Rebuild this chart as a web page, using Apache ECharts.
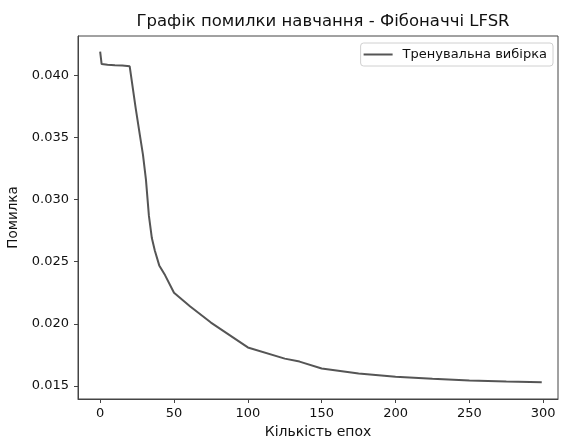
<!DOCTYPE html>
<html>
<head>
<meta charset="utf-8">
<script src="https://cdn.jsdelivr.net/npm/echarts@6/dist/echarts.min.js"></script>
<style>
html,body{margin:0;padding:0;background:#fff;}
#chart{width:564px;height:440px;}
</style>
</head>
<body>
<div id="chart"></div>
<script>
// Data
var epochs = [0, 1, 5, 10, 15, 20, 24, 27, 29, 31, 33, 35, 37, 40, 44, 50, 61, 75, 100, 125, 135, 150, 175, 200, 225, 250, 275, 299];
var trainLoss = [0.0419, 0.0409, 0.04085, 0.0408, 0.04078, 0.04072, 0.0374, 0.0351, 0.0336, 0.0316, 0.0287, 0.0269, 0.0259, 0.0247, 0.0239, 0.0225, 0.0214, 0.0201, 0.0181, 0.0172, 0.01696, 0.0164, 0.0160, 0.01575, 0.01557, 0.01543, 0.01535, 0.0153];
var xTicks = [0, 50, 100, 150, 200, 250, 300];
var yTicks = [0.015, 0.020, 0.025, 0.030, 0.035, 0.040];

var titleText = 'Графік помилки навчання - Фібоначчі LFSR';
var xName = 'Кількість епох';
var yName = 'Помилка';
var seriesName = 'Тренувальна вибірка';

var points = epochs.map(function (e, i) { return [e, trainLoss[i]]; });
var font = 'DejaVu Sans';

var chart = echarts.init(document.getElementById('chart'), null, {renderer: 'canvas'});
chart.setOption({
  animation: false,
  backgroundColor: '#ffffff',
  textStyle: {fontFamily: font},
  title: {
    text: titleText,
    left: 318, top: 8, textAlign: 'center',
    textStyle: {fontFamily: font, fontSize: 16.5, fontWeight: 'normal', color: '#111'}
  },
  legend: {
    data: [seriesName],
    right: 11, top: 43,
    orient: 'vertical',
    itemWidth: 29, itemHeight: 2, itemGap: 0,
    padding: [5, 6, 5, 3],
    borderColor: '#d0d0d0', borderWidth: 1, borderRadius: 3,
    backgroundColor: '#fff',
    textStyle: {fontFamily: font, fontSize: 13, color: '#111', padding: [0, 0, 0, 5]},
    icon: 'rect'
  },
  grid: {
    left: 78, top: 36, right: 6, bottom: 41,
    containLabel: false,
    outerBoundsMode: 'none',
    show: true, borderColor: '#444', borderWidth: 1, backgroundColor: '#fff'
  },
  xAxis: {
    type: 'value',
    min: -15, max: 310,
    name: xName, nameLocation: 'middle', nameGap: 25,
    nameTextStyle: {fontFamily: font, fontSize: 14, color: '#111'},
    splitLine: {show: false},
    axisLine: {show: true, onZero: false, lineStyle: {color: '#444', width: 1}},
    axisTick: {show: true, inside: false, length: 4, lineStyle: {color: '#444'}, customValues: xTicks},
    axisLabel: {fontFamily: font, fontSize: 13, color: '#111', margin: 8, customValues: xTicks}
  },
  yAxis: {
    type: 'value',
    min: 0.01395, max: 0.04316,
    name: yName, nameLocation: 'middle', nameGap: 50, nameRotate: 90,
    nameTextStyle: {fontFamily: font, fontSize: 13.5, color: '#111'},
    splitLine: {show: false},
    axisLine: {show: true, onZero: false, lineStyle: {color: '#444', width: 1}},
    axisTick: {show: true, inside: false, length: 4, lineStyle: {color: '#444'}, customValues: yTicks},
    axisLabel: {fontFamily: font, fontSize: 13, color: '#111', margin: 9, customValues: yTicks,
      formatter: function (v) { return v.toFixed(3); }}
  },
  series: [{
    name: seriesName,
    type: 'line',
    data: points,
    symbol: 'none',
    showSymbol: false,
    smooth: false,
    itemStyle: {color: '#555555'},
    lineStyle: {color: '#555555', width: 2}
  }]
});
</script>
</body>
</html>
